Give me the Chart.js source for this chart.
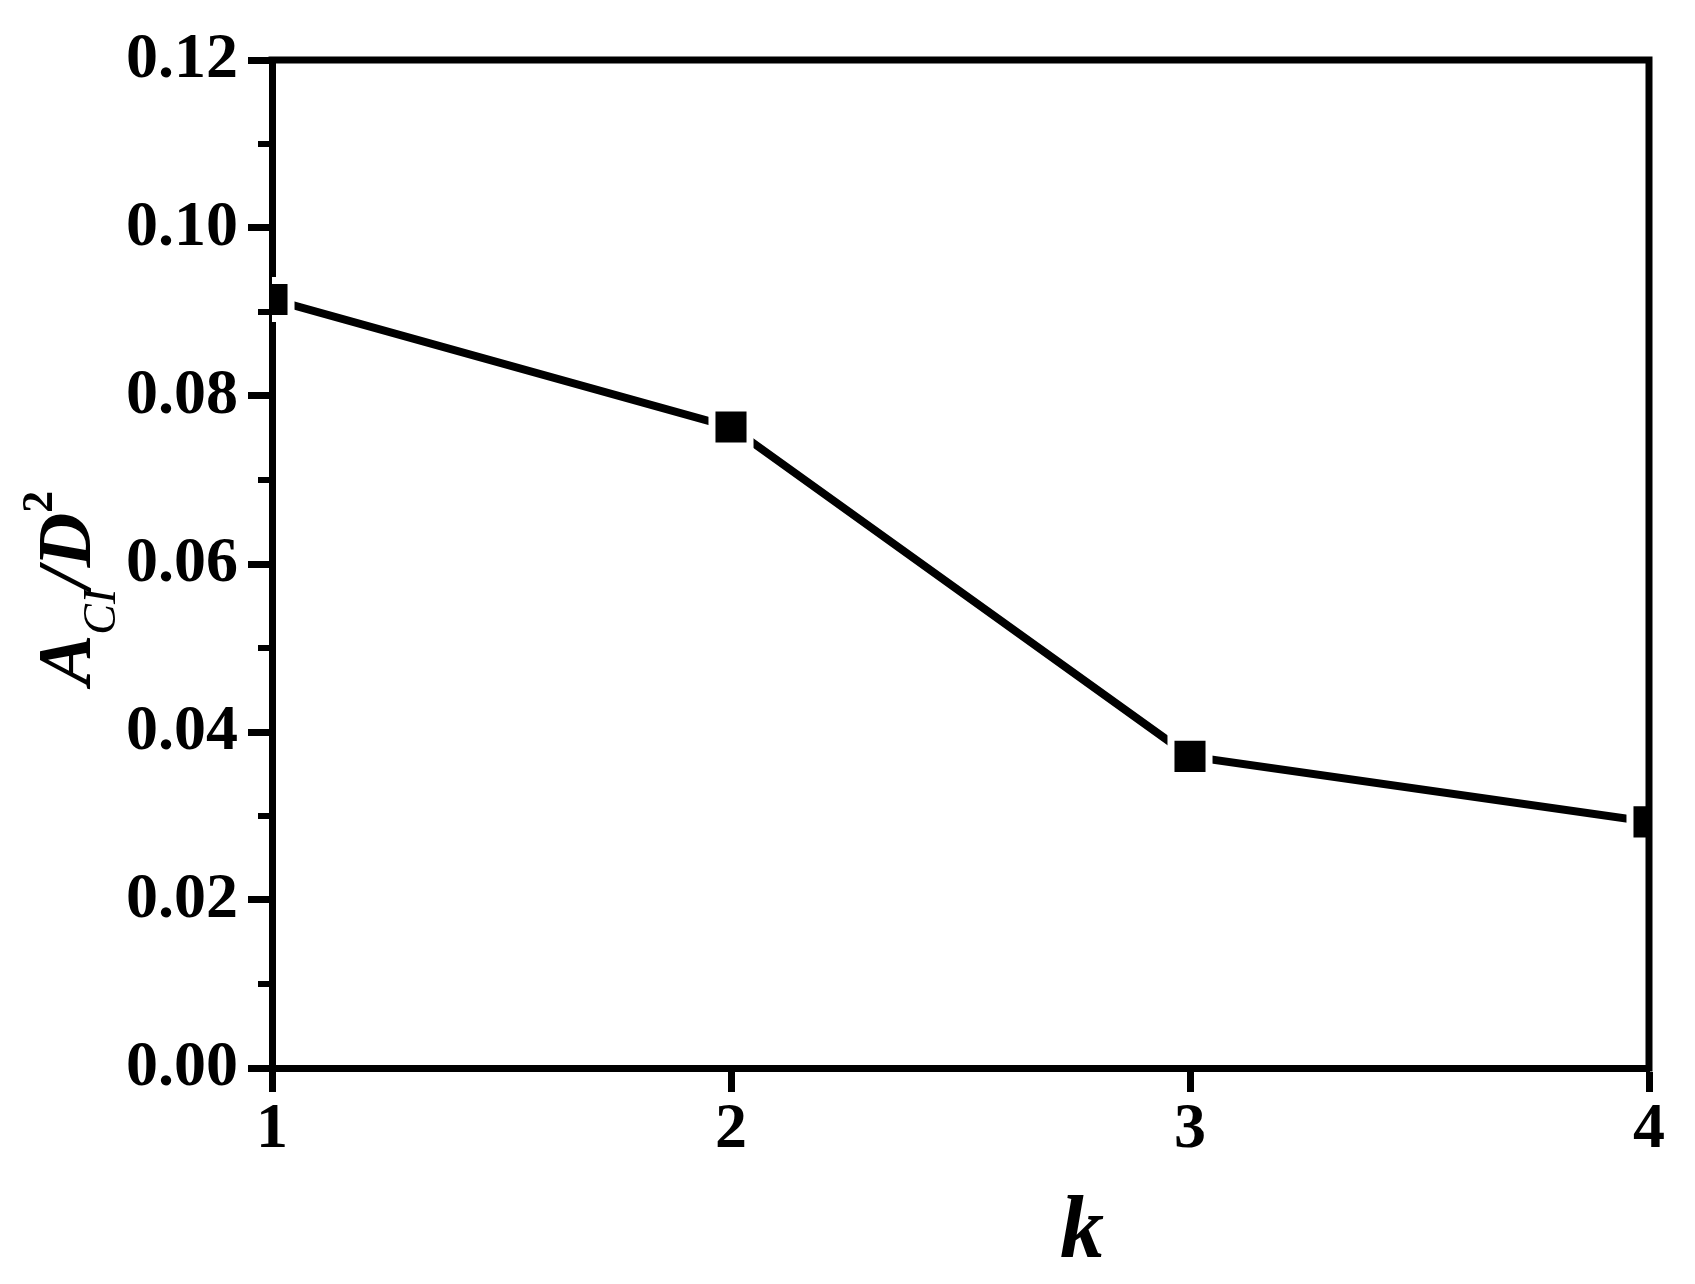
<!DOCTYPE html>
<html>
<head>
<meta charset="utf-8">
<script src="https://cdn.jsdelivr.net/npm/chart.js@4/dist/chart.umd.min.js"></script>
<style>
    html, body { margin: 0; padding: 0; background: #fff; }
    #wrap { width: 1695px; height: 1284px; }
</style>
</head>
<body>
<div id="wrap"><canvas id="kChart" width="1695" height="1284"></canvas></div>
<script>
// 数据
const kValues = [1, 2, 3, 4];
const areaRatio = [0.0915, 0.0763, 0.0371, 0.0293];
const yTicks = [0, 0.02, 0.04, 0.06, 0.08, 0.10, 0.12];
const yMinorTicks = [0.01, 0.03, 0.05, 0.07, 0.09, 0.11];
const xTicks = [1, 2, 3, 4];

const FONT = "'Liberation Serif', 'Times New Roman', serif";

// 画外框、次刻度和坐标轴标题
const framePlugin = {
    id: 'frame',
    afterDraw(chart) {
        const ctx = chart.ctx;
        const area = chart.chartArea;
        const yScale = chart.scales.y;

        ctx.save();
        ctx.strokeStyle = '#000';
        ctx.lineWidth = 7;
        ctx.beginPath();
        ctx.moveTo(area.left - 3.5, area.top);
        ctx.lineTo(area.right, area.top);
        ctx.lineTo(area.right, area.bottom + 3.5);
        ctx.stroke();

        // 次刻度
        ctx.lineWidth = 6;
        yMinorTicks.forEach(v => {
            const py = yScale.getPixelForValue(v);
            ctx.beginPath();
            ctx.moveTo(area.left - 14, py);
            ctx.lineTo(area.left, py);
            ctx.stroke();
        });

        // x 轴标题
        ctx.fillStyle = '#000';
        ctx.textAlign = 'center';
        ctx.textBaseline = 'alphabetic';
        ctx.font = `italic bold 88px ${FONT}`;
        ctx.fillText('k', 1082, 1257);

        // y 轴标题 A_CI/D^2
        const parts = [
            { text: 'A', font: `italic bold 76px ${FONT}`, dy: 0 },
            { text: 'CI', font: `italic 46px ${FONT}`, dy: 25 },
            { text: '/D', font: `italic bold 76px ${FONT}`, dy: 0 },
            { text: '2', font: `bold 44px ${FONT}`, dy: -38 }
        ];
        let total = 0;
        parts.forEach(p => {
            ctx.font = p.font;
            p.w = ctx.measureText(p.text).width;
            total += p.w;
        });
        ctx.translate(90, 588);
        ctx.rotate(-Math.PI / 2);
        ctx.textAlign = 'left';
        let x = -total / 2;
        parts.forEach(p => {
            ctx.font = p.font;
            ctx.fillText(p.text, x, p.dy);
            x += p.w;
        });
        ctx.restore();
    }
};

function createChart() {
    const ctx = document.getElementById('kChart').getContext('2d');

    new Chart(ctx, {
        type: 'line',
        data: {
            datasets: [{
                data: kValues.map((k, i) => ({ x: k, y: areaRatio[i] })),
                borderColor: '#000',
                borderWidth: 8,
                tension: 0,
                fill: false,
                clip: 0,
                pointStyle: 'rect',
                pointRadius: 26.9,
                pointBackgroundColor: '#000',
                pointBorderColor: '#fff',
                pointBorderWidth: 7
            }]
        },
        options: {
            responsive: false,
            animation: false,
            events: [],
            layout: {
                padding: { left: 0, top: 60, right: 46, bottom: 0 }
            },
            plugins: {
                legend: { display: false },
                tooltip: { enabled: false }
            },
            scales: {
                x: {
                    type: 'linear',
                    position: 'bottom',
                    min: 1,
                    max: 4,
                    z: 1,
                    afterFit: scale => { scale.height = 216; },
                    afterBuildTicks: scale => {
                        scale.ticks = xTicks.map(v => ({ value: v }));
                    },
                    border: { display: true, color: '#000', width: 7 },
                    grid: {
                        drawOnChartArea: false,
                        drawTicks: true,
                        tickLength: 24,
                        tickWidth: 7,
                        tickColor: '#000'
                    },
                    ticks: {
                        color: '#000',
                        padding: 0,
                        maxRotation: 0,
                        font: { family: FONT, size: 64, weight: 'bold' },
                        callback: v => String(v)
                    }
                },
                y: {
                    min: 0,
                    max: 0.12,
                    z: 1,
                    afterFit: scale => { scale.width = 272; },
                    afterBuildTicks: scale => {
                        scale.ticks = yTicks.map(v => ({ value: v }));
                    },
                    border: { display: true, color: '#000', width: 7 },
                    grid: {
                        drawOnChartArea: false,
                        drawTicks: true,
                        tickLength: 24,
                        tickWidth: 7,
                        tickColor: '#000'
                    },
                    ticks: {
                        color: '#000',
                        padding: 10,
                        font: { family: FONT, size: 64, weight: 'bold' },
                        callback: v => Number(v).toFixed(2)
                    }
                }
            }
        },
        plugins: [framePlugin]
    });
}

createChart();
</script>
</body>
</html>
